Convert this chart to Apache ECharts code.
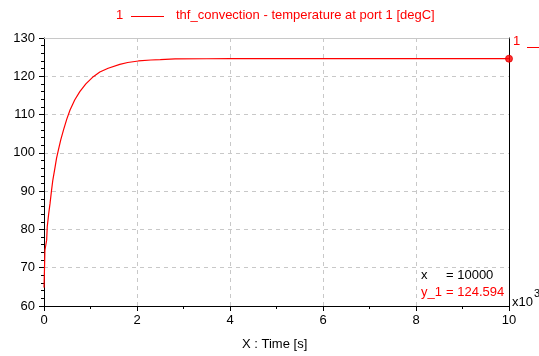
<!DOCTYPE html>
<html>
<head>
<meta charset="utf-8">
<script src="https://cdn.jsdelivr.net/npm/echarts@6/dist/echarts.min.js"></script>
<style>
html,body{margin:0;padding:0;background:#fff;}
#chart{width:539px;height:356px;}
</style>
</head>
<body>
<div id="chart"></div>
<script>
// Time (x10^3 s) and temperature at port 1 [degC]
const timeValues = [0, 0.01, 0.02, 0.04, 0.057, 0.07, 0.1, 0.13, 0.16, 0.19, 0.24, 0.27, 0.31, 0.36, 0.42, 0.49, 0.56, 0.66, 0.77, 0.9, 1.06, 1.2, 1.38, 1.63, 1.8, 2.03, 2.3, 2.5, 2.82, 3.5, 4, 5, 6, 7, 8, 9, 10];
const tempValues = [64.8, 69.5, 74.6, 76.0, 77.2, 80.7, 84.0, 86.8, 90.0, 92.9, 96.4, 98.6, 100.8, 103.4, 106.0, 108.8, 111.2, 113.8, 116.0, 118.0, 119.9, 121.1, 122.1, 123.1, 123.6, 124.0, 124.25, 124.35, 124.55, 124.58, 124.59, 124.594, 124.594, 124.594, 124.594, 124.594, 124.594];
const xTickLabels = ['0', '2', '4', '6', '8', '10'];
const yTickLabels = ['60', '70', '80', '90', '100', '110', '120', '130'];
const cursorX = 10;
const cursorXText = '10000';
const cursorY = 124.594;

const FONT = 'Liberation Sans, Arial, sans-serif';
const chart = echarts.init(document.getElementById('chart'), null, {renderer: 'canvas'});
const lineData = timeValues.map((t, i) => [t, tempValues[i]]);

chart.setOption({
  animation: false,
  backgroundColor: '#fff',
  grid: {left: 44, right: 30, top: 38, bottom: 50, containLabel: false},
  xAxis: [{
    type: 'value', min: 0, max: 10, interval: 2, position: 'bottom',
    axisLine: {show: true, onZero: false, lineStyle: {color: '#000', width: 1}},
    axisTick: {show: true, inside: false, length: 5, lineStyle: {color: '#000'}},
    minorTick: {show: true, splitNumber: 2, length: 3, lineStyle: {color: '#000'}},
    axisLabel: {margin: 8, fontSize: 13, color: '#000', fontFamily: FONT,
      formatter: (v) => xTickLabels[Math.round(v / 2)] ?? ''},
    splitLine: {show: true, lineStyle: {color: '#c8c8c8', type: [4, 4], width: 1}}
  }, {
    type: 'value', min: 0, max: 10, position: 'top',
    axisLine: {show: true, onZero: false, lineStyle: {color: '#c8c8c8', width: 1}},
    axisTick: {show: false}, axisLabel: {show: false}, splitLine: {show: false}
  }],
  yAxis: [{
    type: 'value', min: 60, max: 130, interval: 10, position: 'left',
    axisLine: {show: true, onZero: false, lineStyle: {color: '#000', width: 1}},
    axisTick: {show: true, inside: false, length: 5, lineStyle: {color: '#000'}},
    minorTick: {show: true, splitNumber: 5, length: 3, lineStyle: {color: '#000'}},
    axisLabel: {margin: 9, fontSize: 13, color: '#000', fontFamily: FONT,
      formatter: (v) => yTickLabels[Math.round((v - 60) / 10)] ?? ''},
    splitLine: {show: true, lineStyle: {color: '#c8c8c8', type: [4, 4], width: 1}}
  }, {
    type: 'value', min: 60, max: 130, position: 'right',
    axisLine: {show: true, onZero: false, lineStyle: {color: '#000', width: 1}},
    axisTick: {show: false}, axisLabel: {show: false}, splitLine: {show: false}
  }],
  series: [{
    type: 'line', data: lineData, showSymbol: false, symbol: 'none',
    lineStyle: {color: '#ff0000', width: 1.2}, clip: true, z: 3
  }, {
    type: 'scatter', data: [[cursorX, cursorY]], symbol: 'circle', symbolSize: 7,
    itemStyle: {color: '#ff0000', borderColor: '#e00000', borderWidth: 1}, z: 5, clip: false
  }],
  graphic: [
    {type: 'text', left: 116, top: 9, style: {text: '1', fill: '#ff0000', font: '13px ' + FONT}},
    {type: 'line', shape: {x1: 131, y1: 16.5, x2: 164, y2: 16.5}, style: {stroke: '#ff0000', lineWidth: 1}},
    {type: 'text', left: 176, top: 9, style: {text: 'thf_convection - temperature at port 1 [degC]', fill: '#ff0000', font: '13px ' + FONT}},
    {type: 'text', left: 513, top: 35, style: {text: '1', fill: '#ff0000', font: '13px ' + FONT}},
    {type: 'line', shape: {x1: 527, y1: 47.5, x2: 539, y2: 47.5}, style: {stroke: '#ff0000', lineWidth: 1}},
    {type: 'text', left: 421, top: 269, style: {text: 'x', fill: '#000', font: '13px ' + FONT}},
    {type: 'text', left: 446, top: 269, style: {text: '= ' + cursorXText, fill: '#000', font: '13px ' + FONT}},
    {type: 'text', left: 421, top: 286, style: {text: 'y_1', fill: '#ff0000', font: '13px ' + FONT}},
    {type: 'text', left: 446, top: 286, style: {text: '= ' + cursorY.toFixed(3), fill: '#ff0000', font: '13px ' + FONT}},
    {type: 'text', left: 512, top: 296, style: {text: 'x10', fill: '#000', font: '13px ' + FONT}},
    {type: 'text', left: 534, top: 288, style: {text: '3', fill: '#000', font: '11px ' + FONT}},
    {type: 'text', left: 242, top: 338, style: {text: 'X : Time [s]', fill: '#000', font: '13px ' + FONT}}
  ]
});
</script>
</body>
</html>
